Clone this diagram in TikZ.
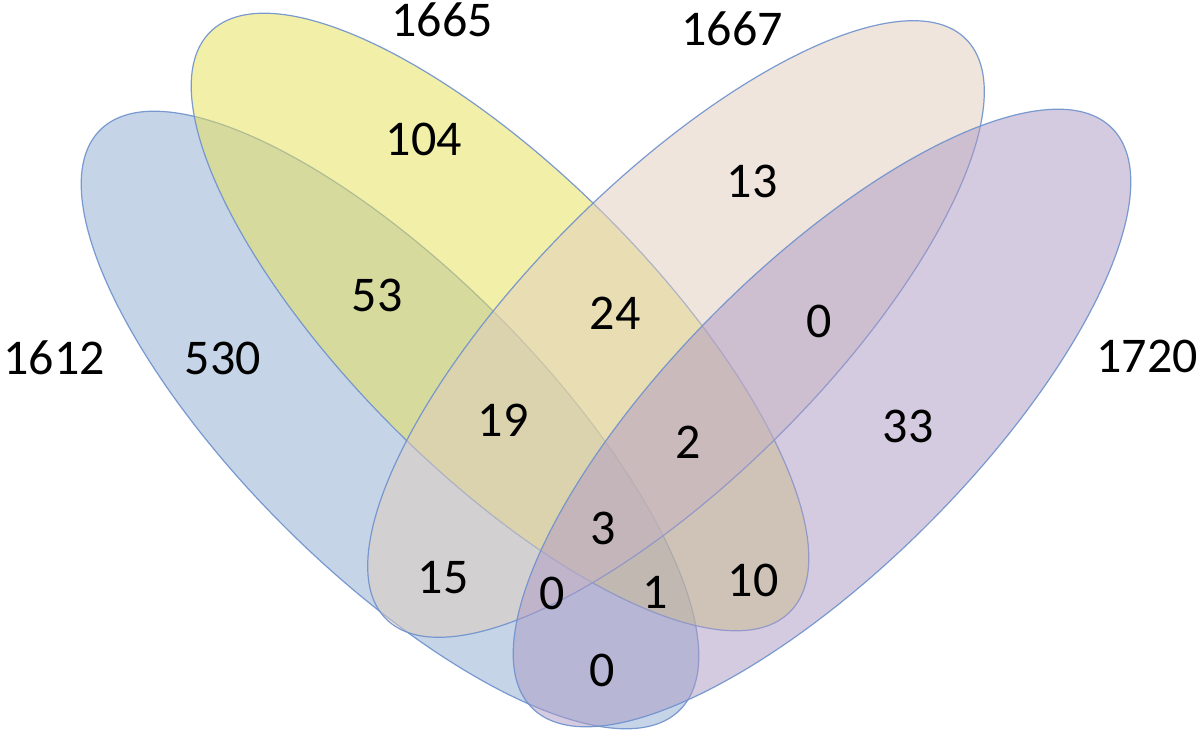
\documentclass[tikz,border=0pt]{standalone}
\usepackage{fontspec}
\setmainfont{Carlito}
\definecolor{cA}{RGB}{140,170,208}
\definecolor{cB}{RGB}{231,225,85}
\definecolor{cC}{RGB}{225,205,189}
\definecolor{cD}{RGB}{173,153,197}
\definecolor{edgeC}{RGB}{110,145,205}
\begin{document}
\begin{tikzpicture}[x=1pt,y=-1pt,
  setshape/.style={fill opacity=0.5, draw=edgeC, draw opacity=0.9, line width=1.2pt},
  lbl/.style={font=\fontsize{50}{60}\selectfont, text=black, inner sep=0pt}]
\useasboundingbox (0,0) rectangle (1200,746);
\fill[white] (0,0) rectangle (1200,746);
% sets
\path[setshape, fill=cA, rotate around={-45:(390,420)}] (390,420) ellipse [x radius=410pt, y radius=150pt];
\path[setshape, fill=cB, rotate around={-45:(500,322)}] (500,322) ellipse [x radius=410pt, y radius=150pt];
\path[setshape, fill=cC, rotate around={45:(676,329)}] (676,329) ellipse [x radius=410pt, y radius=148pt];
\path[setshape, fill=cD, rotate around={45:(822,418)}] (822,418) ellipse [x radius=410pt, y radius=150pt];
% totals
\node[lbl] (tA) at (54,358) {1612};
\node[lbl] (tB) at (442,20) {1665};
\node[lbl] (tC) at (732,29) {1667};
\node[lbl] (tD) at (1147,356) {1720};
% regions
\node[lbl] (rA) at (223,358) {530};
\node[lbl] (rB) at (424,139) {104};
\node[lbl] (rC) at (752,181) {13};
\node[lbl] (rD) at (908,426) {33};
\node[lbl] (rAB) at (377,295) {53};
\node[lbl] (rBC) at (615,313) {24};
\node[lbl] (rCD) at (819,321) {0};
\node[lbl] (rAC) at (443,578) {15};
\node[lbl] (rBD) at (753,580) {10};
\node[lbl] (rAD) at (602,670) {0};
\node[lbl] (rABC) at (503,420) {19};
\node[lbl] (rBCD) at (688,442) {2};
\node[lbl] (rACD) at (552,593) {0};
\node[lbl] (rABD) at (655,592) {1};
\node[lbl] (rABCD) at (603,528) {3};
\end{tikzpicture}
\end{document}
